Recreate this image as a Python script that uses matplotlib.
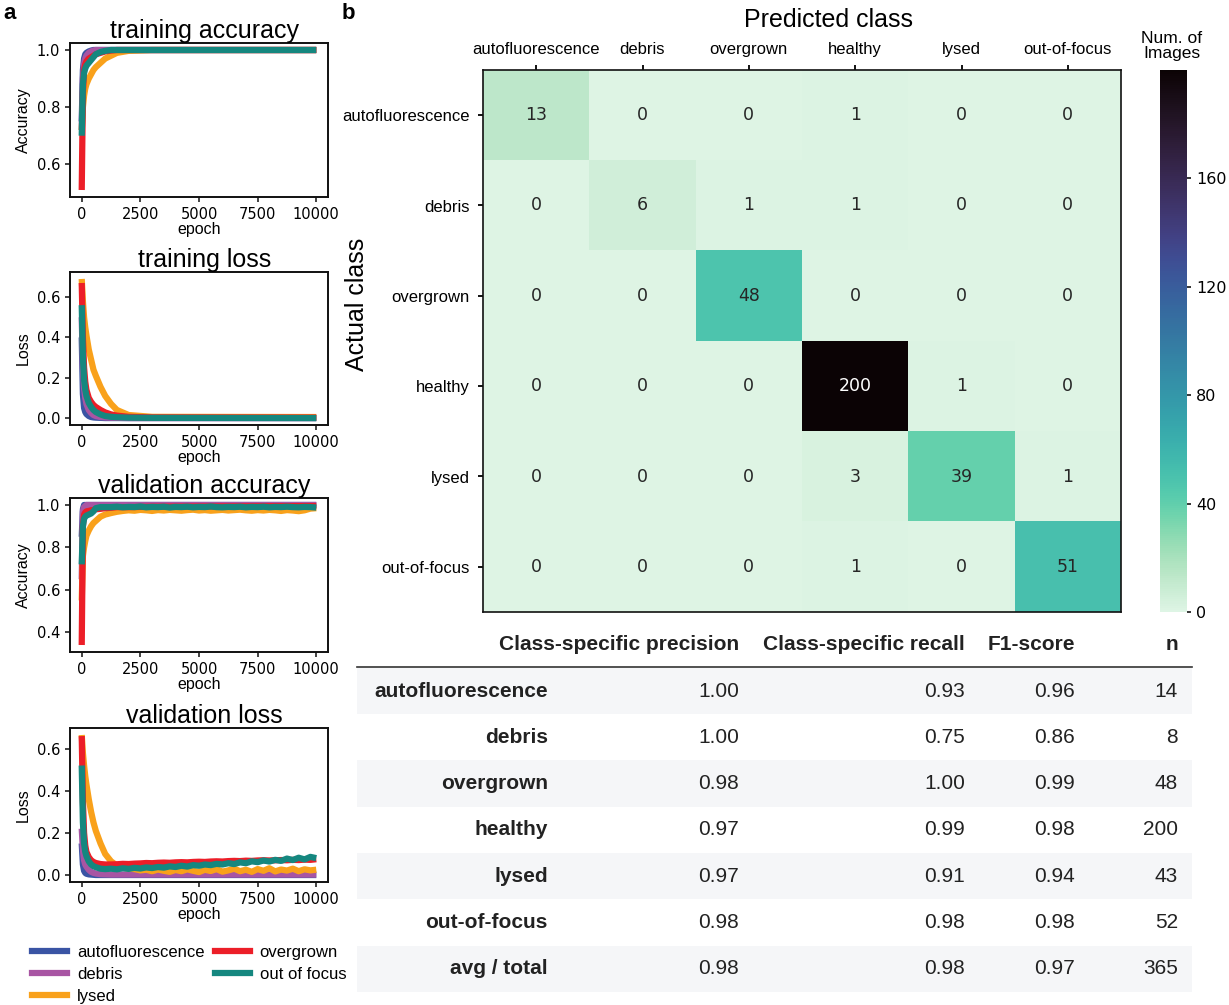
import numpy as np
import matplotlib
matplotlib.use("Agg")
import matplotlib.pyplot as plt
import seaborn as sns
from matplotlib.lines import Line2D
from matplotlib.patches import Rectangle

W, H = 1229, 1005
SANS = "Liberation Sans"
MONO = "DejaVu Sans"

# ---------------- data ----------------
classes = ["autofluorescence", "debris", "overgrown", "healthy", "lysed", "out-of-focus"]
legend_names = ["autofluorescence", "debris", "lysed", "overgrown", "out of focus"]
line_colors = ["#3A54A4", "#A855A3", "#F9A11B", "#EC1E28", "#15877F"]

EP_S = [0, 50, 100, 150, 200, 300, 400, 500, 600, 800, 1000, 1250, 1500, 2000, 3000, 10000]
EP_N = [0, 50, 100, 150, 200, 300, 400, 500, 600, 800, 1000,
        1250, 1500, 1750, 2000, 2250, 2500, 2750, 3000, 3250, 3500, 3750, 4000,
        4250, 4500, 4750, 5000, 5250, 5500, 5750, 6000, 6250, 6500, 6750, 7000,
        7250, 7500, 7750, 8000, 8250, 8500, 8750, 9000, 9250, 9500, 9750, 10000]

# training accuracy (EP_S)
tacc_auto = [0.75, 0.93, 0.97, 0.985, 0.99, 0.995, 0.998, 1.0, 1.0, 1.0, 1.0, 1.0, 1.0, 1.0, 1.0, 1.0]
tacc_debris = [0.72, 0.90, 0.95, 0.97, 0.98, 0.99, 0.995, 0.998, 1.0, 1.0, 1.0, 1.0, 1.0, 1.0, 1.0, 1.0]
tacc_lysed = [0.72, 0.80, 0.84, 0.865, 0.88, 0.90, 0.915, 0.93, 0.94, 0.955, 0.97, 0.98, 0.99, 0.997, 1.0, 1.0]
tacc_over = [0.51, 0.85, 0.93, 0.95, 0.96, 0.97, 0.975, 0.98, 0.985, 0.99, 0.995, 0.998, 1.0, 1.0, 1.0, 1.0]
tacc_oof = [0.70, 0.88, 0.92, 0.935, 0.945, 0.955, 0.965, 0.975, 0.985, 0.993, 0.997, 1.0, 1.0, 1.0, 1.0, 1.0]

# training loss (EP_S)
tloss_auto = [0.40, 0.12, 0.05, 0.03, 0.02, 0.01, 0.005, 0.003, 0.002, 0.001, 0.0, 0.0, 0.0, 0.0, 0.0, 0.0]
tloss_debris = [0.50, 0.25, 0.15, 0.10, 0.07, 0.04, 0.025, 0.015, 0.01, 0.005, 0.003, 0.002, 0.001, 0.0, 0.0, 0.0]
tloss_lysed = [0.69, 0.58, 0.50, 0.45, 0.41, 0.34, 0.29, 0.24, 0.21, 0.155, 0.11, 0.07, 0.04, 0.015, 0.006, 0.005]
tloss_over = [0.67, 0.40, 0.25, 0.18, 0.14, 0.10, 0.08, 0.065, 0.055, 0.04, 0.028, 0.018, 0.012, 0.006, 0.003, 0.002]
tloss_oof = [0.56, 0.30, 0.19, 0.14, 0.11, 0.075, 0.055, 0.04, 0.03, 0.018, 0.01, 0.006, 0.004, 0.002, 0.001, 0.0]

# validation accuracy
vacc_auto = [0.85, 0.98, 1.0, 1.0, 1.0, 1.0, 1.0, 1.0, 1.0, 1.0, 1.0, 1.0, 1.0, 1.0, 1.0, 1.0]          # EP_S
vacc_debris = [0.65, 0.97, 0.99, 0.995, 1.0, 1.0, 1.0, 1.0, 1.0, 1.0, 1.0, 1.0, 1.0, 1.0, 1.0, 1.0]     # EP_S
vacc_lysed = [0.55, 0.76, 0.80, 0.83, 0.855, 0.88, 0.90, 0.915, 0.925, 0.945, 0.955,                  # EP_N
              0.962, 0.968, 0.972, 0.975, 0.973, 0.977, 0.975, 0.972, 0.976, 0.974, 0.977, 0.975,
              0.973, 0.976, 0.978, 0.974, 0.976, 0.973, 0.975, 0.977, 0.974, 0.976, 0.978, 0.975,
              0.973, 0.976, 0.974, 0.977, 0.975, 0.972, 0.976, 0.974, 0.971, 0.975, 0.983, 0.985]
vacc_over = [0.34, 0.90, 0.955, 0.965, 0.97, 0.972, 0.975, 0.977, 0.98, 0.982, 0.985, 0.987, 0.99, 0.99, 0.992, 0.995]  # EP_S
vacc_oof = [0.72, 0.90, 0.935, 0.945, 0.95, 0.955, 0.96, 0.97, 0.985, 0.99, 0.99,                     # EP_N
            0.99, 0.992, 0.989, 0.991, 0.99, 0.993, 0.989, 0.991, 0.99, 0.992, 0.988, 0.991,
            0.99, 0.992, 0.989, 0.991, 0.99, 0.993, 0.99, 0.989, 0.991, 0.99, 0.992, 0.989,
            0.991, 0.99, 0.992, 0.989, 0.991, 0.99, 0.992, 0.99, 0.989, 0.991, 0.99, 0.988]

# validation loss
vloss_auto = [0.15, 0.05, 0.02, 0.01, 0.006, 0.003, 0.002, 0.001, 0.0, 0.0, 0.0, 0.0, 0.0, 0.0, 0.0, 0.0]   # EP_S
vloss_debris = [0.22, 0.12, 0.07, 0.05, 0.04, 0.025, 0.015, 0.01, 0.007, 0.004, 0.003, 0.002, 0.002, 0.002, 0.002, 0.002]  # EP_S
vloss_lysed = [0.665, 0.58, 0.52, 0.47, 0.43, 0.36, 0.30, 0.25, 0.21, 0.15, 0.10,                    # EP_N
               0.065, 0.045, 0.035, 0.03, 0.028, 0.022, 0.025, 0.018, 0.026, 0.02, 0.015, 0.024,
               0.018, 0.027, 0.02, 0.014, 0.025, 0.019, 0.028, 0.016, 0.022, 0.03, 0.018, 0.025,
               0.015, 0.028, 0.02, 0.032, 0.017, 0.026, 0.021, 0.03, 0.018, 0.027, 0.022, 0.025]
vloss_over = [0.66, 0.35, 0.20, 0.14, 0.11, 0.085, 0.07, 0.062, 0.057, 0.052, 0.05,                  # EP_N
              0.05, 0.051, 0.053, 0.052, 0.054, 0.055, 0.057, 0.056, 0.058, 0.059, 0.058, 0.06,
              0.061, 0.06, 0.062, 0.063, 0.062, 0.064, 0.065, 0.064, 0.066, 0.067, 0.066, 0.068,
              0.067, 0.069, 0.07, 0.069, 0.07, 0.071, 0.07, 0.072, 0.071, 0.073, 0.072, 0.075]
vloss_oof = [0.52, 0.25, 0.15, 0.11, 0.09, 0.065, 0.05, 0.042, 0.037, 0.03, 0.028,                  # EP_N
             0.030, 0.027, 0.032, 0.029, 0.034, 0.031, 0.036, 0.033, 0.038, 0.035, 0.041, 0.038,
             0.044, 0.040, 0.047, 0.044, 0.050, 0.047, 0.053, 0.050, 0.056, 0.052, 0.060, 0.056,
             0.065, 0.061, 0.069, 0.064, 0.072, 0.067, 0.078, 0.071, 0.082, 0.074, 0.086, 0.080]

# confusion matrix
conf_matrix = [[13, 0, 0, 1, 0, 0],
               [0, 6, 1, 1, 0, 0],
               [0, 0, 48, 0, 0, 0],
               [0, 0, 0, 200, 1, 0],
               [0, 0, 0, 3, 39, 1],
               [0, 0, 0, 1, 0, 51]]
cbar_ticks = [0, 40, 80, 120, 160]

# metrics table
tbl_rows = ["autofluorescence", "debris", "overgrown", "healthy", "lysed", "out-of-focus", "avg / total"]
tbl_precision = [1.00, 1.00, 0.98, 0.97, 0.97, 0.98, 0.98]
tbl_recall = [0.93, 0.75, 1.00, 0.99, 0.91, 0.98, 0.98]
tbl_f1 = [0.96, 0.86, 0.99, 0.98, 0.94, 0.98, 0.97]
tbl_n = [14, 8, 48, 200, 43, 52, 365]
tbl_headers = ["Class-specific precision", "Class-specific recall", "F1-score", "n"]

# ---------------- figure ----------------
fig = plt.figure(figsize=(W / 100, H / 100), dpi=100)


def rect(x0, y0, x1, y1):
    return [x0 / W, 1 - y1 / H, (x1 - x0) / W, (y1 - y0) / H]


def fx(x):
    return x / W


def fy(y):
    return 1 - y / H


# table background axes (pixel coordinates)
tax = fig.add_axes([0, 0, 1, 1])
tax.set_xlim(0, W)
tax.set_ylim(H, 0)
tax.axis("off")

# ---- left panels ----
panels = [
    ("training accuracy", "Accuracy", [(EP_S, tacc_auto), (EP_S, tacc_debris), (EP_S, tacc_lysed), (EP_S, tacc_over), (EP_S, tacc_oof)], (43, 197), [0.6, 0.8, 1.0]),
    ("training loss", "Loss", [(EP_S, tloss_auto), (EP_S, tloss_debris), (EP_S, tloss_lysed), (EP_S, tloss_over), (EP_S, tloss_oof)], (272, 425), [0.0, 0.2, 0.4, 0.6]),
    ("validation accuracy", "Accuracy", [(EP_S, vacc_auto), (EP_S, vacc_debris), (EP_N, vacc_lysed), (EP_S, vacc_over), (EP_N, vacc_oof)], (498, 652), [0.4, 0.6, 0.8, 1.0]),
    ("validation loss", "Loss", [(EP_S, vloss_auto), (EP_S, vloss_debris), (EP_N, vloss_lysed), (EP_N, vloss_over), (EP_N, vloss_oof)], (728, 882), [0.0, 0.2, 0.4, 0.6]),
]
for title, ylab, series, (y0, y1), yt in panels:
    ax = fig.add_axes(rect(70, y0, 328, y1))
    for (ep, vals), col in zip(series, line_colors):
        ax.plot(ep, vals, color=col, lw=4.5, solid_capstyle="butt")
    ax.set_title(title, fontsize=18, family=SANS, pad=3, x=0.52)
    ax.set_ylabel(ylab, fontsize=11.5, family=SANS, labelpad=4)
    ax.set_xlabel("epoch", fontsize=11.5, family=SANS, labelpad=0)
    ax.set_xticks([0, 2500, 5000, 7500, 10000])
    ax.set_yticks(yt)
    ax.set_yticklabels([f"{v:.1f}" for v in yt])
    ax.tick_params(labelsize=10.5, width=1.2, length=3.5, color="#222222")
    for lab in ax.get_xticklabels() + ax.get_yticklabels():
        lab.set_family(MONO)
    for s in ax.spines.values():
        s.set_linewidth(1.4)
        s.set_color("#111111")

handles = [Line2D([], [], color=c, lw=4.5) for c in line_colors]
fig.legend(handles, legend_names, ncol=2, loc="upper left",
           bbox_to_anchor=(fx(32), fy(945)), frameon=False,
           prop={"family": SANS, "size": 12}, handlelength=2.1,
           handletextpad=0.6, columnspacing=0.6, labelspacing=0.42,
           borderpad=0, borderaxespad=0)

# ---- heatmap ----
cmap = sns.color_palette("mako_r", as_cmap=True)
hax = fig.add_axes(rect(483, 70, 1121, 612))
cm = np.array(conf_matrix)
im = hax.imshow(cm, cmap=cmap, vmin=0, vmax=200, aspect="auto", interpolation="nearest")
for i in range(cm.shape[0]):
    for j in range(cm.shape[1]):
        v = cm[i, j]
        r, g, b, _ = cmap(v / 200)
        lum = 0.2126 * r + 0.7152 * g + 0.0722 * b
        hax.text(j, i, str(v), ha="center", va="center", fontsize=12.5,
                 family=MONO, color="white" if lum < 0.4 else "#262626")
hax.xaxis.tick_top()
hax.set_xticks(range(len(classes)))
hax.set_xticklabels(classes, fontsize=12, family=SANS)
hax.set_yticks(range(len(classes)))
hax.set_yticklabels(classes, fontsize=12, family=SANS)
hax.tick_params(axis="x", length=3.5, width=1.3, pad=6)
hax.tick_params(axis="y", length=3.5, width=1.3, pad=6)
for s in hax.spines.values():
    s.set_linewidth(1.2)
    s.set_color("#111111")

fig.text(fx(828), fy(20), "Predicted class", ha="center", va="center", fontsize=18, family=SANS)
fig.text(fx(357), fy(304), "Actual class", ha="center", va="center", rotation=90, fontsize=18, family=SANS)

cax = fig.add_axes(rect(1160, 70, 1187, 612))
cb = fig.colorbar(im, cax=cax, ticks=cbar_ticks)
cb.outline.set_visible(False)
cax.tick_params(labelsize=11.5, length=3, width=1.1)
for lab in cax.get_yticklabels():
    lab.set_family(MONO)
fig.text(fx(1172), fy(46), "Num. of\nImages", ha="center", va="center", fontsize=12.5,
         family=SANS, linespacing=1.0)

# ---- panel labels ----
fig.text(fx(3), fy(3), "a", ha="left", va="top", fontsize=16, fontweight="bold", family=SANS)
fig.text(fx(342), fy(3), "b", ha="left", va="top", fontsize=16, fontweight="bold", family=SANS)

# ---- table ----
col_right = [739, 965, 1075, 1178]
label_right = 548
header_y = 644
row0_y = 691
row_h = 46.3
for k, (hd, xr) in enumerate(zip(tbl_headers, col_right)):
    tax.text(xr, header_y, hd, ha="right", va="center", fontsize=15,
             fontweight="bold", family=SANS, color="#222222")
tax.plot([357, 1192], [667, 667], color="#333333", lw=1.2)
for i, name in enumerate(tbl_rows):
    yc = row0_y + i * row_h
    if i % 2 == 0:
        tax.add_patch(Rectangle((357, yc - row_h / 2), 835, row_h,
                                facecolor="#F5F6F8", edgecolor="none"))
    tax.text(label_right, yc, name, ha="right", va="center", fontsize=15,
             fontweight="bold", family=SANS, color="#222222")
    vals = [f"{tbl_precision[i]:.2f}", f"{tbl_recall[i]:.2f}", f"{tbl_f1[i]:.2f}", f"{tbl_n[i]}"]
    for v, xr in zip(vals, col_right):
        tax.text(xr, yc, v, ha="right", va="center", fontsize=15,
                 family=SANS, color="#222222")

fig.savefig("out.png", dpi=100)
